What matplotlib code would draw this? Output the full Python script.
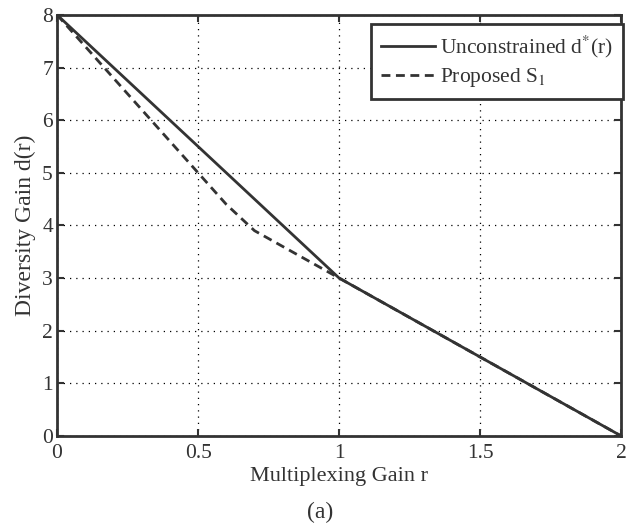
import numpy as np
import matplotlib.pyplot as plt

plt.rcParams['font.family'] = ['Liberation Serif', 'DejaVu Serif']
plt.rcParams['mathtext.fontset'] = 'stix'

# unconstrained DMT curve
r_opt = [0, 1, 2]
d_opt = [8, 3, 0]

# proposed S1 scheme
r_s1 = [0, 0.5, 0.6, 0.7, 1, 2]
d_s1 = [8, 5, 4.4, 3.9, 3, 0]

col = '#333333'

fig = plt.figure(figsize=(6.41, 5.31), dpi=100)
ax = fig.add_axes([0.089, 0.179, 0.880, 0.793])

ax.plot(r_opt, d_opt, '-', color=col, lw=2.0, label='Unconstrained d$^{*}$(r)', zorder=3)
ax.plot(r_s1, d_s1, '--', color=col, lw=2.0, dashes=(3.2, 2.0), label='Proposed S$_{1}$', zorder=2)

ax.set_xlim(0, 2)
ax.set_ylim(0, 8)
ax.set_xticks([0, 0.5, 1, 1.5, 2])
ax.set_xticklabels(['0', '0.5', '1', '1.5', '2'])
ax.set_yticks(range(9))

ax.grid(True, linestyle=(0, (1, 4)), color='black', linewidth=0.9)
ax.tick_params(direction='in', top=True, right=True, length=5, width=1.5,
               labelsize=15.5, colors=col)
ax.tick_params(axis='x', pad=6)
ax.tick_params(axis='y', pad=3)
for s in ax.spines.values():
    s.set_linewidth(2.0)
    s.set_color(col)

ax.set_xlabel('Multiplexing Gain r', fontsize=16, color=col, labelpad=3)
ax.set_ylabel('Diversity Gain d(r)', fontsize=17, color=col, labelpad=4)

leg = ax.legend(loc='upper right', bbox_to_anchor=(623 / 641, 507 / 531),
                bbox_transform=fig.transFigure, fontsize=15.5, handlelength=2.5,
                borderaxespad=0, fancybox=False, framealpha=1, edgecolor=col,
                borderpad=0.45, labelspacing=0.3, handletextpad=0.25)
leg.get_frame().set_linewidth(2.0)
for t in leg.get_texts():
    t.set_color(col)

fig.text(0.5, 0.034, '(a)', ha='center', va='center', fontsize=17, color=col)

fig.savefig('out.png', dpi=100)
